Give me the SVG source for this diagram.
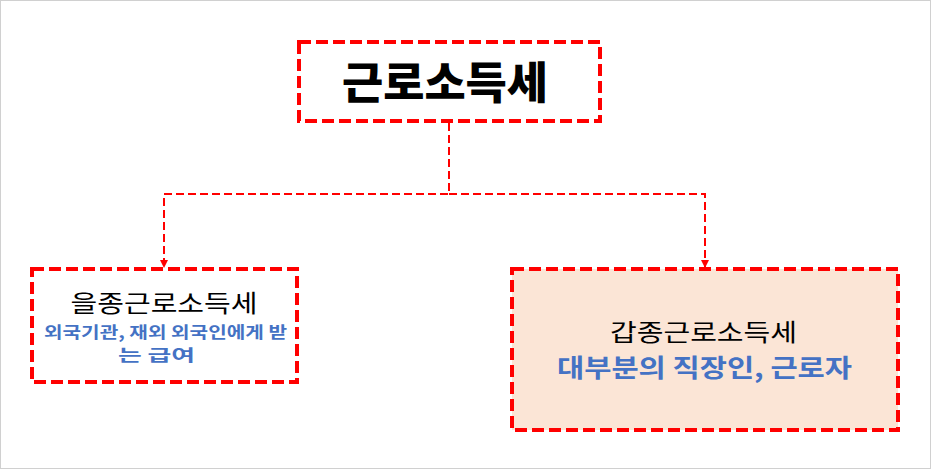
<svg xmlns="http://www.w3.org/2000/svg" width="931" height="469" viewBox="0 0 931 469">
<defs>
<style>
.box{stroke:#FF0000;stroke-width:4;stroke-dasharray:12 5;}
.conn{fill:none;stroke:#FF0000;stroke-width:2;stroke-dasharray:8 4;}
.k{font-family:"Noto Sans CJK KR","Noto Sans",sans-serif;text-anchor:middle;}
.blue{fill:#4472C4;font-weight:bold;}
</style>
<marker id="arr" viewBox="0 0 10 10" refX="10" refY="5" markerWidth="4" markerHeight="4" orient="auto" markerUnits="strokeWidth">
<path d="M0,0 L10,5 L0,10 Z" fill="#FF0000"/>
</marker>
</defs>
<rect x="0.5" y="0.5" width="930" height="468" fill="#FFFFFF" stroke="#D0D0D0" stroke-width="1"/>
<g id="connectors">
<path class="conn" d="M449,123 V194 H164 V268" marker-end="url(#arr)"/>
<path class="conn" d="M449,194 H705 V268" marker-end="url(#arr)"/>
</g>
<g id="root">
<rect class="box" x="299" y="42" width="301" height="79" fill="#FFFFFF"/>
<text class="k" x="445" y="99" font-size="44" font-weight="900" fill="#000000" textLength="206" lengthAdjust="spacingAndGlyphs">근로소득세</text>
</g>
<g id="eul">
<rect class="box" x="32" y="269" width="265" height="113" fill="#FFFFFF"/>
<text class="k" x="164" y="312" font-size="24" fill="#000000" textLength="187" lengthAdjust="spacingAndGlyphs">을종근로소득세</text>
<text class="k blue" x="165.5" y="338" font-size="16" textLength="243" lengthAdjust="spacingAndGlyphs">외국기관, 재외 외국인에게 받</text>
<text class="k blue" x="156.5" y="361" font-size="16" textLength="77" lengthAdjust="spacingAndGlyphs">는 급여</text>
</g>
<g id="gap">
<rect class="box" x="512" y="269" width="386" height="161" fill="#FBE5D6"/>
<text class="k" x="703.5" y="341" font-size="24" fill="#000000" textLength="187" lengthAdjust="spacingAndGlyphs">갑종근로소득세</text>
<text class="k blue" x="704.5" y="377" font-size="25" textLength="295" lengthAdjust="spacingAndGlyphs">대부분의 직장인, 근로자</text>
</g>
</svg>
